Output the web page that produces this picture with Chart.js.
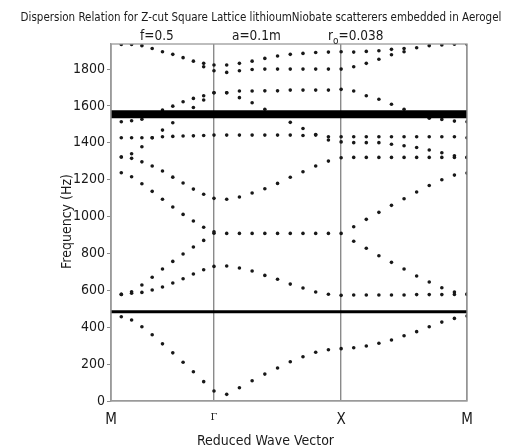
<!DOCTYPE html>
<html>
<head>
<meta charset="utf-8">
<script src="https://cdn.jsdelivr.net/npm/chart.js@4/dist/chart.umd.min.js"></script>
<style>
  html,body{margin:0;padding:0;background:#fff;}
  #wrap{width:521px;height:447px;position:relative;}
</style>
</head>
<body>
<div id="wrap"><canvas id="c" width="521" height="447"></canvas></div>
<script>
// ---- data (frequency in Hz), 10 samples per path segment M→Γ, Γ→X, X→M ----
const pathLabels = ['M', 'Γ', 'X', 'M'];
const pathPositions = [0, 0.81, 1.81, 2.80];   // reduced wave-vector position of each symmetry point
const samplesPerSegment = 10;
const yTicks = [0, 200, 400, 600, 800, 1000, 1200, 1400, 1600, 1800];
const freqMax = 1936;
const lowerGapEdge = 484;
const upperGapCenter = 1555;

const band1 = [457,439,403,359,310,261,210,159,105,54,
               36,72,110,146,179,213,240,264,278,284,
               289,298,313,331,354,376,403,428,448,461];
const band2 = [578,584,589,602,618,640,663,689,712,730,
               732,721,705,681,660,634,613,591,579,573,
               575,575,575,575,575,577,577,577,578,578];
const band3 = [578,592,629,671,716,757,797,835,871,918,
               909,909,909,909,909,909,909,909,909,909,
               866,828,788,752,716,678,645,614,591,580];
const band4 = [1238,1216,1178,1137,1094,1052,1012,976,942,910,
               1094,1106,1128,1151,1180,1213,1243,1274,1301,1319,
               945,985,1023,1061,1097,1133,1169,1200,1225,1236];
const band5 = [1323,1316,1297,1274,1247,1214,1182,1149,1121,1099,
               1442,1442,1442,1442,1442,1442,1440,1442,1433,1433,
               1321,1321,1321,1321,1321,1321,1321,1321,1321,1321];
const band6 = [1323,1341,1379,1428,1469,1509,null,1592,1632,1672,
               1672,1645,1617,1582,null,1511,1478,1445,1415,1405,
               1401,1401,1401,1392,1384,1375,1361,1346,1330,1321];
const band7 = [1428,1428,1428,1428,1433,1435,1437,1438,1440,1442,
               1672,1681,1681,1682,1682,1686,1686,1686,1686,1690,
               1433,1433,1433,1433,1433,1433,1433,1433,1433,1428];
const band8 = [1514,1520,1528,null,1578,1599,1623,1641,1655,1672,
               1782,1791,1798,1800,1800,1800,1800,1800,1800,1800,
               1681,1655,1636,1609,1582,null,1533,1527,1518,1514];
const band9 = [null,null,null,null,null,null,null,null,1813,1791,
               1822,1831,1843,1858,1871,1880,1885,1890,1892,1894,
               1813,1831,1853,1878,1894,null,null,null,null,null];
const band10 = [1933,1933,1927,1912,1894,1880,1862,1843,1831,1822,
                null,null,null,null,null,null,null,null,null,null,
                1892,1896,1899,1907,1912,1916,1927,1931,1935,1935];
const bands = [band1, band2, band3, band4, band5, band6, band7, band8, band9, band10];

// ---- build scatter points along the path ----
function toPoints(values) {
  const pts = [];
  values.forEach((v, i) => {
    if (v === null) return;
    const seg = Math.floor(i / samplesPerSegment);
    const k = (i % samplesPerSegment) + 1;
    const x0 = pathPositions[seg], x1 = pathPositions[seg + 1];
    pts.push({x: x0 + (x1 - x0) * k / samplesPerSegment, y: v});
  });
  return pts;
}

const FONT = "'DejaVu Sans Condensed', 'DejaVu Sans', sans-serif";
const xMin = pathPositions[0], xMax = pathPositions[pathPositions.length - 1];

const datasets = [
  {type:'line', data:[{x:xMin,y:upperGapCenter},{x:xMax,y:upperGapCenter}],
   borderColor:'#000', borderWidth:8, pointRadius:0, borderCapStyle:'butt'},
  {type:'line', data:[{x:xMin,y:lowerGapEdge},{x:xMax,y:lowerGapEdge}],
   borderColor:'#000', borderWidth:3, pointRadius:0, borderCapStyle:'butt'}
];
bands.forEach(b => datasets.push({
  type:'scatter', data: toPoints(b),
  pointRadius:1.8, pointBackgroundColor:'#181818', pointBorderWidth:0
}));

const textPlugin = {
  id:'texts',
  afterDraw(chart) {
    const ctx = chart.ctx, a = chart.chartArea;
    ctx.save();
    // frame
    ctx.strokeStyle = '#9a9a9a'; ctx.lineWidth = 1.3;
    ctx.strokeRect(a.left, a.top, a.right - a.left, a.bottom - a.top);
    ctx.fillStyle = '#1a1a1a';
    ctx.textBaseline = 'alphabetic';
    // title
    ctx.font = '11.5px ' + FONT; ctx.textAlign = 'center';
    ctx.fillText('Dispersion Relation for Z-cut Square Lattice lithioumNiobate scatterers embedded in Aerogel', 261, 21);
    // parameters line
    ctx.font = '13.5px ' + FONT; ctx.textAlign = 'left';
    ctx.fillText('f=0.5', 140, 39.5);
    ctx.fillText('a=0.1m', 232, 39.5);
    ctx.fillText('r', 328, 39.5);
    const rw = ctx.measureText('r').width;
    ctx.font = '10px ' + FONT;
    ctx.fillText('o', 328 + rw, 44);
    const ow = ctx.measureText('o').width;
    ctx.font = '13.5px ' + FONT;
    ctx.fillText('=0.038', 328 + rw + ow, 39.5);
    // axis titles
    ctx.font = '14px ' + FONT; ctx.textAlign = 'center';
    ctx.fillText('Reduced Wave Vector', 265.5, 445);
    ctx.translate(71, 221.5); ctx.rotate(-Math.PI / 2);
    ctx.fillText('Frequency (Hz)', 0, 0);
    ctx.restore();
  }
};

new Chart(document.getElementById('c'), {
  data: {datasets},
  options: {
    responsive:false, animation:false, events:[],
    layout:{padding:{top:44, right:54, left:0, bottom:0}},
    plugins:{legend:{display:false}, title:{display:false}, tooltip:{enabled:false}},
    scales:{
      x:{type:'linear', min:xMin, max:xMax,
         afterBuildTicks(s){ s.ticks = pathPositions.map(v => ({value:v})); },
         afterFit(s){ s.height = 46; },
         ticks:{autoSkip:false, maxRotation:0, padding:10, color:'#1a1a1a',
                callback:(v, i) => pathLabels[i],
                font:(c) => (c.index === 1 ? {family:"'DejaVu Serif', serif", size:10} : {family:FONT, size:15})},
         grid:{color:'#8a8a8a', lineWidth:1.4, drawTicks:false},
         border:{display:true, color:'#9a9a9a', width:1.3}},
      y:{type:'linear', min:0, max:freqMax,
         afterBuildTicks(s){ s.ticks = yTicks.map(v => ({value:v})); },
         afterFit(s){ s.width = 111; },
         ticks:{padding:2, color:'#1a1a1a', font:{family:FONT, size:14},
                callback:(v) => String(v)},
         grid:{drawOnChartArea:false, drawTicks:true, tickLength:4, tickColor:'#8a8a8a', tickWidth:1},
         border:{display:true, color:'#9a9a9a', width:1.3}}
    }
  },
  plugins:[textPlugin]
});
</script>
</body>
</html>
